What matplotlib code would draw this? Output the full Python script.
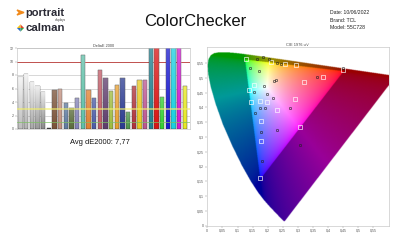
import numpy as np
import matplotlib
matplotlib.use('Agg')
import matplotlib.pyplot as plt
from matplotlib.path import Path
from matplotlib.patches import Polygon

# ---------------- data ----------------
bar_values = [7.7, 8.1, 7.0, 6.4, 5.5, 0.2,
              5.8, 6.0, 3.9, 3.1, 4.6, 11.0, 5.8, 4.6, 8.8, 7.5, 5.7, 6.5,
              7.5, 2.5, 6.4, 7.2, 7.2, 16.6,
              16.6, 4.7, 16.6, 16.6, 16.6, 6.3]
bar_colors = ['#bdbdbd', '#b4b4b4', '#a8a8a8', '#9a9a9a', '#8a8a8a', '#2a2a2a',
              '#7a5238', '#c2907f', '#5d7aa0', '#5a6b3a', '#8483b8', '#5ec0a8',
              '#e08030', '#4a5aa8', '#c25a66', '#5e3c6c', '#a0bc40', '#e8a030',
              '#2a3a90', '#4a9448', '#b03038', '#e8c820', '#bc5490', '#1f7f8f',
              '#d81414', '#30d030', '#1818d0', '#18d0e0', '#d018d0', '#e8e820']
bar_yticks = [0, 2, 4, 6, 8, 10, 12]
avg_de = "7,77"

# CIE 1931 spectral locus (x, y), 380-700 nm, 5 nm steps
locus_x = [0.1741, 0.1740, 0.1738, 0.1736, 0.1733, 0.1730, 0.1726, 0.1721, 0.1714,
           0.1703, 0.1689, 0.1669, 0.1644, 0.1611, 0.1566, 0.1510, 0.1440, 0.1355,
           0.1241, 0.1096, 0.0913, 0.0687, 0.0454, 0.0235, 0.0082, 0.0039, 0.0139,
           0.0389, 0.0743, 0.1142, 0.1547, 0.1929, 0.2296, 0.2658, 0.3016, 0.3373,
           0.3731, 0.4087, 0.4441, 0.4788, 0.5125, 0.5448, 0.5752, 0.6029, 0.6270,
           0.6482, 0.6658, 0.6801, 0.6915, 0.7006, 0.7079, 0.7140, 0.7190, 0.7230,
           0.7260, 0.7283, 0.7300, 0.7311, 0.7320, 0.7327, 0.7334, 0.7340, 0.7344,
           0.7346, 0.7347]
locus_y = [0.0050, 0.0050, 0.0049, 0.0049, 0.0048, 0.0048, 0.0048, 0.0048, 0.0051,
           0.0058, 0.0069, 0.0086, 0.0109, 0.0138, 0.0177, 0.0227, 0.0297, 0.0399,
           0.0578, 0.0868, 0.1327, 0.2007, 0.2950, 0.4127, 0.5384, 0.6548, 0.7502,
           0.8120, 0.8338, 0.8262, 0.8059, 0.7816, 0.7543, 0.7243, 0.6923, 0.6589,
           0.6245, 0.5896, 0.5547, 0.5202, 0.4866, 0.4544, 0.4242, 0.3965, 0.3725,
           0.3514, 0.3340, 0.3197, 0.3083, 0.2993, 0.2920, 0.2859, 0.2809, 0.2770,
           0.2740, 0.2717, 0.2700, 0.2689, 0.2680, 0.2673, 0.2666, 0.2660, 0.2656,
           0.2654, 0.2653]

target_u = [0.127, 0.155, 0.138, 0.144, 0.175, 0.197, 0.177, 0.177, 0.175, 0.230,
            0.210, 0.258, 0.295, 0.320, 0.383, 0.450, 0.290, 0.307]
target_v = [0.565, 0.477, 0.459, 0.419, 0.422, 0.417, 0.354, 0.287, 0.160, 0.391,
            0.554, 0.546, 0.542, 0.486, 0.503, 0.526, 0.428, 0.333]
meas_u = [0.141, 0.172, 0.189, 0.156, 0.197, 0.175, 0.192, 0.158, 0.177, 0.182,
          0.230, 0.307, 0.364, 0.448, 0.221, 0.228, 0.166, 0.185, 0.203, 0.230,
          0.243, 0.274, 0.217]
meas_v = [0.534, 0.522, 0.471, 0.453, 0.444, 0.398, 0.397, 0.381, 0.317, 0.218,
          0.324, 0.273, 0.501, 0.534, 0.488, 0.491, 0.564, 0.569, 0.563, 0.550,
          0.547, 0.397, 0.431]
cie_xticks = [0, 0.05, 0.1, 0.15, 0.2, 0.25, 0.3, 0.35, 0.4, 0.45, 0.5, 0.55]
cie_yticks = [0, 0.05, 0.1, 0.15, 0.2, 0.25, 0.3, 0.35, 0.4, 0.45, 0.5, 0.55]

FONT = 'Liberation Sans'

def fx(px):
    return px / 400.0

def fy(py):
    return 1 - py / 240.0

def fmt(v):
    return ('%g' % v).replace('.', ',')

fig = plt.figure(figsize=(4, 2.4), dpi=100)
fig.patch.set_facecolor('white')

# ---------------- header ----------------
fig.text(fx(195), fy(22), 'ColorChecker', ha='center', va='center',
         fontsize=12, family=FONT, color='#111111')
for i, t in enumerate(['Date: 10/06/2022', 'Brand: TCL', 'Model: 55C728']):
    fig.text(fx(330), fy(13 + 7.3 * i), t, ha='left', va='center',
             fontsize=3.7, family=FONT, color='#222222')
fig.text(fx(25), fy(12.5), 'portrait', ha='left', va='center', fontsize=8,
         family=FONT, weight='bold', color='#2a2a35')
fig.text(fx(66), fy(19.5), 'displays', ha='right', va='center', fontsize=2.2,
         family=FONT, color='#444444')
fig.text(fx(25), fy(28), 'calman', ha='left', va='center', fontsize=8.2,
         family=FONT, weight='bold', color='#2a2a35')

logo_ax = fig.add_axes([0, 0, 1, 1], zorder=-1)
logo_ax.set_xlim(0, 400)
logo_ax.set_ylim(240, 0)
logo_ax.axis('off')
logo_ax.add_patch(Polygon([[17, 10], [24, 12.5], [17, 15], [19.5, 12.5]],
                          closed=True, color='#f08a1c'))
cx, cy, r = 20.5, 28, 3.6
quads = [('#e0452b', [[cx, cy - r], [cx + r, cy], [cx, cy]]),
         ('#3aa64a', [[cx + r, cy], [cx, cy + r], [cx, cy]]),
         ('#2f6fc0', [[cx, cy + r], [cx - r, cy], [cx, cy]]),
         ('#f5c21b', [[cx - r, cy], [cx, cy - r], [cx, cy]])]
for c, pts in quads:
    logo_ax.add_patch(Polygon(pts, closed=True, color=c, lw=0))

# ---------------- bar chart ----------------
axb = fig.add_axes([fx(17), fy(129), (190 - 17) / 400, (129 - 48) / 240])
xs = np.arange(len(bar_values))
bars = axb.bar(xs, bar_values, width=0.77, color=bar_colors, edgecolor='#333333',
               linewidth=0.3, zorder=2)
axb.set_xlim(-0.62, len(bar_values) - 0.1)
axb.set_ylim(0, 12)
# light sheen on each bar (top lighter), clipped to the bar
grad = np.linspace(0, 1, 64).reshape(-1, 1)
for i, b in enumerate(bars):
    h = min(b.get_height(), 12)
    strength = 0.85 if i < 5 else 0.25
    sheen = np.ones((64, 1, 4))
    sheen[..., 3] = grad * strength
    im = axb.imshow(sheen, extent=[b.get_x(), b.get_x() + b.get_width(), 0, h],
                    origin='lower', aspect='auto', zorder=2.5, interpolation='bilinear')
    im.set_clip_path(b)
axb.set_xlim(-0.62, len(bar_values) - 0.1)
axb.set_ylim(0, 12)
axb.set_yticks(bar_yticks)
axb.set_yticklabels([str(t) for t in bar_yticks], fontsize=2.6, family=FONT,
                    color='#555555')
axb.tick_params(axis='y', length=1.2, width=0.3, pad=1, color='#888888')
axb.set_xticks([])
for t in [2, 4, 6, 8, 12]:
    axb.axhline(t, color='#c8c8c8', lw=0.5, zorder=1)
axb.axhline(10, color='#c0504d', lw=0.7, zorder=1)
axb.axhline(3, color='#f2ef6a', lw=1.2, alpha=0.7, zorder=3)
axb.axhline(1, color='#7cbf62', lw=0.6, alpha=0.8, zorder=3)
for s in axb.spines.values():
    s.set_color('#bbbbbb')
    s.set_linewidth(0.4)
axb.set_title('DeltaE 2000', fontsize=2.8, family=FONT, color='#444444', pad=0.8)
fig.text(fx(100), fy(142), 'Avg dE2000: ' + avg_de, ha='center', va='center',
         fontsize=5.4, family=FONT, color='#111111')

# ---------------- CIE u'v' ----------------
lx = np.array(locus_x)
ly = np.array(locus_y)
den = -2 * lx + 12 * ly + 3
lu = 4 * lx / den
lv = 9 * ly / den

W, H = 0.6, 0.604
axc = fig.add_axes([fx(207.3), fy(225.7), (388.5 - 207.3) / 400, (225.7 - 47) / 240])
n = 600
uu = np.linspace(0, W, n)
vv = np.linspace(0, H, n)
U, V = np.meshgrid(uu, vv)
d = 6 * U - 16 * V + 12
x = 9 * U / d
y = np.clip(4 * V / d, 1e-5, None)
X = x / y
Z = (1 - x - y) / y
Y = np.ones_like(X)
M = np.array([[3.2406, -1.5372, -0.4986],
              [-0.9689, 1.8758, 0.0415],
              [0.0557, -0.2040, 1.0570]])
lin = np.einsum('ij,jkl->kli', M, np.stack([X, Y, Z]))
in_gamut = np.all(lin >= 0, axis=-1)
lin = np.clip(lin, 0, None)
lin = lin / np.maximum(lin.max(axis=-1, keepdims=True), 1e-9)
srgb = np.where(lin <= 0.0031308, 12.92 * lin, 1.055 * np.power(lin, 1 / 2.4) - 0.055)
srgb[~in_gamut] *= 0.6
path = Path(np.column_stack([lu, lv]))
mask = path.contains_points(np.column_stack([U.ravel(), V.ravel()])).reshape(U.shape)
img = np.dstack([srgb, mask.astype(float)])
axc.imshow(img, origin='lower', extent=[0, W, 0, H], aspect='auto',
           interpolation='bilinear', zorder=1)
axc.plot(target_u, target_v, linestyle='none', marker='s', markersize=3.0,
         markerfacecolor='none', markeredgecolor='white', markeredgewidth=0.45, zorder=3)
axc.plot(meas_u, meas_v, linestyle='none', marker='o', markersize=1.7,
         markerfacecolor='none', markeredgecolor='#222222', markeredgewidth=0.4,
         zorder=4)
axc.set_xlim(0, W)
axc.set_ylim(0, H)
axc.set_xticks(cie_xticks)
axc.set_yticks(cie_yticks)
axc.set_xticklabels([fmt(t) for t in cie_xticks], fontsize=2.6, family=FONT,
                    color='#555555')
axc.set_yticklabels([fmt(t) for t in cie_yticks], fontsize=2.6, family=FONT,
                    color='#555555')
axc.tick_params(length=1.2, width=0.3, pad=1, color='#888888')
for s in axc.spines.values():
    s.set_color('#bbbbbb')
    s.set_linewidth(0.4)
axc.set_title("CIE 1976 u'v'", fontsize=2.8, family=FONT, color='#444444', pad=0.8)

fig.savefig('out.png', dpi=100, facecolor='white')
